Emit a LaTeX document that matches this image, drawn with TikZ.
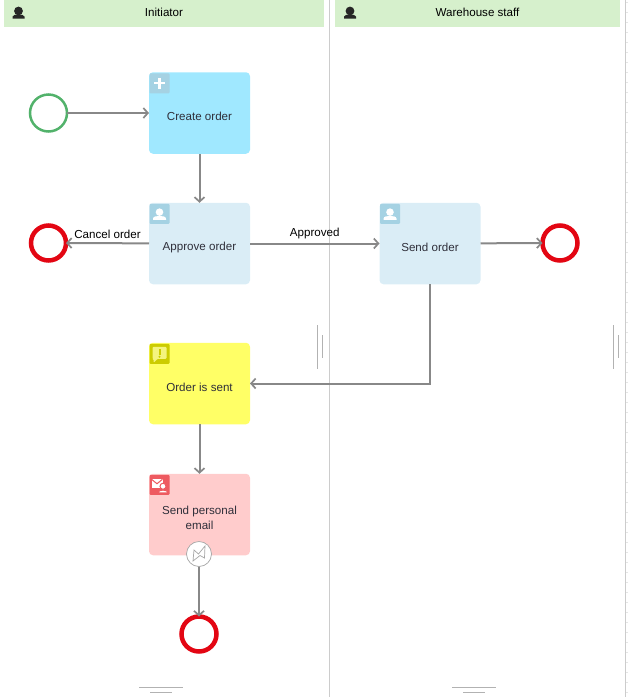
\documentclass[tikz,border=0pt]{standalone}
\usepackage{fontspec}
\setmainfont{Liberation Sans}
\usetikzlibrary{arrows.meta}
\definecolor{flowgray}{HTML}{888888}
\definecolor{lanegreen}{HTML}{D6F0CC}
\definecolor{laneline}{HTML}{CCCCCC}
\definecolor{endred}{HTML}{E30613}
\definecolor{startgreen}{HTML}{52B26B}
\definecolor{darktext}{HTML}{2F2F3A}
\definecolor{createblue}{HTML}{A0E8FF}
\definecolor{userblue}{HTML}{DAEDF6}
\definecolor{iconblue}{HTML}{A5D2E3}
\definecolor{noteyellow}{HTML}{FFFF66}
\definecolor{iconolive}{HTML}{CCCC00}
\definecolor{mailpink}{HTML}{FFCCCC}
\definecolor{iconred}{HTML}{EE5A60}
\tikzset{
  pics/usericon/.style={code={
    \fill[white] (0,-1.6) circle (3.8);
    \fill[white] (-6.5,6.2) -- (-6.5,5) .. controls (-6.5,2.6) and (-3,2.2) .. (0,2.2)
      .. controls (3,2.2) and (6.5,2.6) .. (6.5,5) -- (6.5,6.2) -- cycle;
  }},
  pics/personicon/.style={code={
    \fill[black!85] (0,-2) circle (4.4);
    \fill[black!85] (-6,5.5) -- (-6,3.6) .. controls (-6,2) and (-3,1.6) .. (0,1.6)
      .. controls (3,1.6) and (6,2) .. (6,3.6) -- (6,5.5) -- cycle;
  }},
  pics/plusicon/.style={code={
    \draw[white,line width=2.2] (-5.5,0) -- (5.5,0) (0,-5.5) -- (0,5.5);
  }},
  pics/noticeicon/.style={code={
    \fill[noteyellow!70!iconolive!70!white,rounded corners=1] (-7,-7) -- (7,-7) -- (7,5) -- (-2,5) -- (-6,9) -- (-6,5) -- (-7,5) -- cycle;
    \fill[iconolive] (-1,-4.5) rectangle (1,1);
    \fill[iconolive] (0,3) circle (1.1);
  }},
  pics/mailicon/.style={code={
    \fill[white] (-8,-6) rectangle (3,3.5);
    \draw[iconred,line width=1] (-8,-5.5) -- (-2.5,-1) -- (3,-5.5);
    \fill[white,draw=iconred,line width=1] (3.5,1.5) circle (3);
    \fill[white,draw=iconred,line width=1] (-1.5,8) .. controls (-1.5,4.5) and (8.5,4.5) .. (8.5,8) -- cycle;
  }},
}
\begin{document}
\begin{tikzpicture}
    [x=1pt,y=-1pt,
    every node/.style={font=\fontsize{11.6}{15}\selectfont,outer sep=0pt,inner sep=0pt},
    lanehead/.style={fill=lanegreen,minimum height=27,text=black},
    lanerule/.style={draw=laneline,line width=1},
    grip/.style={draw=black!30,line width=0.8},
    taskbox/.style={rounded corners=4,minimum width=101,minimum height=81.5},
    tasklabel/.style={text=darktext,align=center,yshift=-3.5},
    iconbox/.style={anchor=north west,minimum size=20,xshift=0.5,yshift=-1,rounded corners=1},
    startevent/.style={circle,draw=startgreen,line width=2.5,fill=white,minimum size=37},
    endevent/.style={circle,draw=endred,line width=4.5,fill=white,minimum size=35},
    flow/.style={draw=flowgray,line width=2,-{Straight Barb[length=4.5,width=10,line width=1.7]}},
    flowtext/.style={above=4.5,text=black}]
    \useasboundingbox (0,0) rectangle (628,697);
    % lanes
    \node[lanehead,minimum width=320] (initiator) at (164,13.5) {};
    \node[text=black] (initiatortext) at (164,12) {Initiator};
    \node[lanehead,minimum width=285] (warehouse) at (477.5,13.5) {};
    \node[text=black] (warehousetext) at (477.5,12) {Warehouse staff};
    \pic at (18.5,13) {personicon};
    \pic at (350,13) {personicon};
    \draw[lanerule] (329.5,0) -- (329.5,697);
    \draw[lanerule] (625,0) -- (625,697);
    \foreach \y in {2,12,...,692}
      \draw[black!10,line width=1] (626,\y) -- (628,\y);
    \draw[grip] (317,325) -- (317,369);
    \draw[grip] (322,335) -- (322,358);
    \draw[grip] (613,325) -- (613,369);
    \draw[grip] (618,335) -- (618,358);
    \draw[grip] (139,687) -- (183,687);
    \draw[grip] (150,692) -- (172,692);
    \draw[grip] (452,687) -- (496,687);
    \draw[grip] (463,692) -- (485,692);
    % events
    \node[startevent] (start) at (48.5,113) {};
    \node[endevent] (cancelend) at (48.5,243) {};
    \node[endevent] (sendend) at (560,243) {};
    \node[endevent] (mailend) at (199,634) {};
    % tasks
    \node[taskbox,fill=createblue,label={[tasklabel]center:Create order}] (create) at (199.5,113) {};
    \node[iconbox,fill=iconblue] (createicon) at (create.north west) {};
    \pic at (createicon.center) {plusicon};
    \node[taskbox,fill=userblue,label={[tasklabel]center:Approve order}] (approve) at (199.5,243.5) {};
    \node[iconbox,fill=iconblue] (approveicon) at (approve.north west) {};
    \pic at (approveicon.center) {usericon};
    \node[taskbox,fill=userblue,label={[tasklabel]center:Send order}] (sendorder) at (430,243.5) {};
    \node[iconbox,fill=iconblue] (sendicon) at (sendorder.north west) {};
    \pic at (sendicon.center) {usericon};
    \node[taskbox,fill=noteyellow,label={[tasklabel]center:Order is sent}] (sent) at (199.5,383.5) {};
    \node[iconbox,fill=iconolive] (senticon) at (sent.north west) {};
    \pic at (senticon.center) {noticeicon};
    \node[taskbox,fill=mailpink,label={[tasklabel,yshift=0.5]center:{Send personal\\email}}] (mail) at (199.5,514.5) {};
    \node[iconbox,fill=iconred] (mailicon) at (mail.north west) {};
    \pic at (mailicon.center) {mailicon};
    \node[circle,draw=black!35,line width=0.7,fill=white,minimum size=25] (boundary) at (199,554) {};
    \draw[black!35,line width=0.7] (193,561) -- (194,550) -- (198.5,554) -- (205,546) -- (204.5,558) -- (200,555.5) -- cycle;
    % flows
    \draw[flow] (start) -- (create);
    \draw[flow] (create) -- (approve);
    \draw[flow] (approve) -- node[flowtext] (canceltext) {Cancel order} (cancelend);
    \draw[flow] (approve) -- node[flowtext] (approvedtext) {Approved} (sendorder);
    \draw[flow] (sendorder) -- (sendend);
    \draw[flow] (sendorder) |- (sent);
    \draw[flow] (sent) -- (mail);
    \draw[flow] (boundary) -- (mailend);
\end{tikzpicture}
\end{document}
